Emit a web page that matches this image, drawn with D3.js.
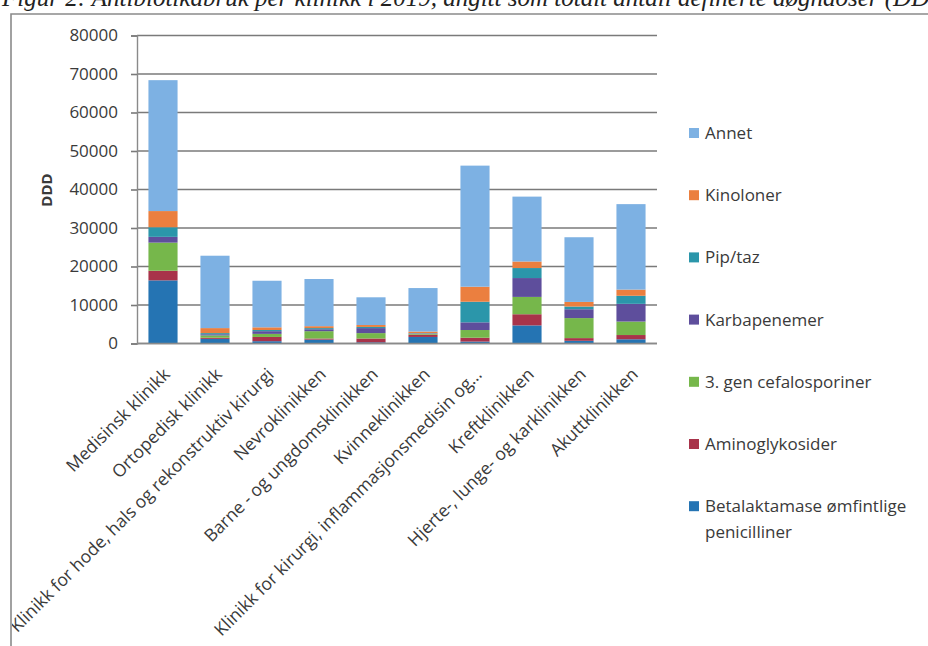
<!DOCTYPE html>
<html>
<head>
<meta charset="utf-8">
<script src="https://cdn.jsdelivr.net/npm/d3@7"></script>
<style>
  html, body { margin: 0; padding: 0; background: #fff; }
  svg { display: block; }
</style>
</head>
<body>
<svg id="chart" width="928" height="646"></svg>
<script>
// Klinikker (x-akse)
const categories = [
  "Medisinsk klinikk",
  "Ortopedisk klinikk",
  "Klinikk for hode, hals og rekonstruktiv kirurgi",
  "Nevroklinikken",
  "Barne - og ungdomsklinikken",
  "Kvinneklinikken",
  "Klinikk for kirurgi, inflammasjonsmedisin og…",
  "Kreftklinikken",
  "Hjerte-, lunge- og karklinikken",
  "Akuttklinikken"
];

// Antibiotikagrupper, stablet nedenfra og opp
const seriesNames = [
  "Betalaktamase ømfintlige penicilliner",
  "Aminoglykosider",
  "3. gen cefalosporiner",
  "Karbapenemer",
  "Pip/taz",
  "Kinoloner",
  "Annet"
];

// DDD per klinikk for hver gruppe
const betalaktamase   = [16400, 1200,   600,  1000,  300, 1700,   500,  4700,   700,  1100];
const aminoglykosider = [ 2500,  300,  1100,   300, 1000,  600,  1000,  2900,   700,  1100];
const cefalosporiner  = [ 7300,  600,   800,  1900, 1400,  200,  2000,  4500,  5200,  3500];
const karbapenemer    = [ 1500,  300,   700,   500, 1300,  100,  2000,  4900,  2300,  4600];
const piptaz          = [ 2500,  300,   300,   300,  300,  100,  5350,  2600,   700,  2100];
const kinoloner       = [ 4200, 1300,   700,   500,  500,  400,  3900,  1700,  1200,  1600];
const annet           = [34000,18800, 12100, 12250, 7200,11300, 31450, 16850, 16800, 22200];

const yTicks = [0, 10000, 20000, 30000, 40000, 50000, 60000, 70000, 80000];

const seriesValues = [betalaktamase, aminoglykosider, cefalosporiner, karbapenemer, piptaz, kinoloner, annet];
const colors = ["#2574B3", "#A8334A", "#76B74B", "#5E4E9C", "#2B96AA", "#EB7F3F", "#7DB1E3"];

const rows = categories.map((c, i) => {
  const r = { category: c };
  seriesNames.forEach((s, k) => { r[s] = seriesValues[k][i]; });
  return r;
});

const svg = d3.select("#chart");
const FONT = "'Open Sans', sans-serif";
const TEXT = "#3a3a3a";

// Figure caption above the frame
svg.append("text")
  .attr("x", 2)
  .attr("y", 6)
  .attr("font-family", "'Liberation Serif', serif")
  .attr("font-style", "italic")
  .attr("font-size", 25)
  .attr("fill", "#222")
  .text("Figur 2: Antibiotikabruk per klinikk i 2019, angitt som totalt antall definerte døgndoser (DDD)");

// Frame around the chart
svg.append("clipPath").attr("id", "frameClip")
  .append("rect").attr("x", 12).attr("y", 15).attr("width", 916).attr("height", 631);

svg.append("path")
  .attr("d", "M11,646 L11,14 L928,14")
  .attr("fill", "none")
  .attr("stroke", "#8a8a8a")
  .attr("stroke-width", 1.6);

const g = svg.append("g").attr("clip-path", "url(#frameClip)");

const plot = { left: 137, right: 657, top: 35.5, bottom: 343.5 };

const x = d3.scaleBand()
  .domain(categories)
  .range([plot.left, plot.right])
  .paddingInner(0.44)
  .paddingOuter(0.22);

const y = d3.scaleLinear()
  .domain([0, 80000])
  .range([plot.bottom, plot.top]);

// Gridlines
g.append("g")
  .selectAll("line")
  .data(yTicks)
  .join("line")
  .attr("x1", plot.left)
  .attr("x2", plot.right)
  .attr("y1", d => y(d))
  .attr("y2", d => y(d))
  .attr("stroke", "#7a7a7a")
  .attr("stroke-width", 1.6);

// Y axis
const yAxis = g.append("g")
  .attr("transform", `translate(${plot.left},0)`)
  .call(d3.axisLeft(y).tickValues(yTicks).tickSize(6).tickPadding(13).tickFormat(d3.format("d")));
yAxis.select(".domain").attr("stroke", "#8a8a8a").attr("stroke-width", 1.4);
yAxis.selectAll(".tick line").attr("stroke", "#7a7a7a").attr("stroke-width", 1.6);
yAxis.selectAll(".tick text")
  .attr("font-family", FONT)
  .attr("font-size", 17)
  .attr("fill", TEXT);

// Y axis title
g.append("text")
  .attr("transform", "translate(52,190) rotate(-90)")
  .attr("text-anchor", "middle")
  .attr("font-family", FONT)
  .attr("font-weight", "bold")
  .attr("font-size", 15)
  .attr("fill", TEXT)
  .text("DDD");

// Stacked bars
const stacked = d3.stack().keys(seriesNames)(rows);

g.append("g")
  .selectAll("g")
  .data(stacked)
  .join("g")
  .attr("fill", (d, i) => colors[i])
  .selectAll("rect")
  .data(d => d)
  .join("rect")
  .attr("x", d => x(d.data.category))
  .attr("width", x.bandwidth())
  .attr("y", d => y(d[1]))
  .attr("height", d => y(d[0]) - y(d[1]));

// Bottom axis line
g.append("line")
  .attr("x1", plot.left).attr("x2", plot.right)
  .attr("y1", plot.bottom).attr("y2", plot.bottom)
  .attr("stroke", "#8a8a8a").attr("stroke-width", 1.6);

// Category labels, rotated
g.append("g")
  .selectAll("text")
  .data(categories)
  .join("text")
  .attr("transform", d => `translate(${x(d) + x.bandwidth() / 2 + 8},${plot.bottom + 32}) rotate(-45)`)
  .attr("text-anchor", "end")
  .attr("font-family", FONT)
  .attr("font-size", 17.5)
  .attr("fill", TEXT)
  .text(d => d);

// Legend, top entry = top of stack
const legendOrder = seriesNames.map((s, i) => ({ name: s, color: colors[i] })).reverse();
const legend = g.append("g")
  .selectAll("g")
  .data(legendOrder)
  .join("g")
  .attr("transform", (d, i) => `translate(689,${133 + i * 62.2})`);

legend.append("rect")
  .attr("x", 0).attr("y", -5)
  .attr("width", 10).attr("height", 10)
  .attr("fill", d => d.color);

legend.append("text")
  .attr("x", 16)
  .attr("y", 0)
  .attr("dy", "0.35em")
  .attr("font-family", FONT)
  .attr("font-size", 17)
  .attr("fill", TEXT)
  .each(function(d) {
    const t = d3.select(this);
    if (d.name === "Betalaktamase ømfintlige penicilliner") {
      t.append("tspan").attr("x", 16).text("Betalaktamase ømfintlige");
      t.append("tspan").attr("x", 16).attr("dy", 26).text("penicilliner");
    } else {
      t.text(d.name);
    }
  });
</script>
</body>
</html>
